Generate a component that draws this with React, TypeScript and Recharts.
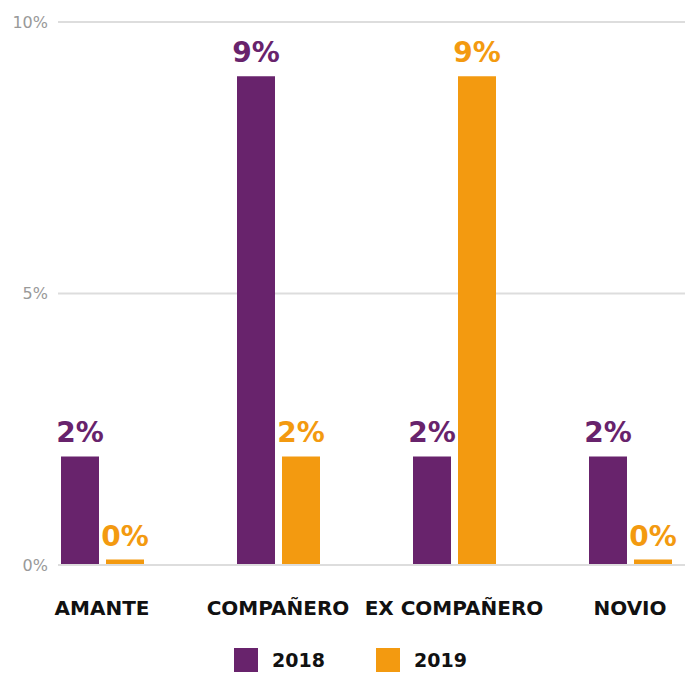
import { Bar, BarChart, CartesianGrid, LabelList, Legend, XAxis, YAxis } from "recharts"

const categories = ["AMANTE", "COMPAÑERO", "EX COMPAÑERO", "NOVIO"]
const values2018 = [2, 9, 2, 2]
const values2019 = [0.1, 2, 9, 0.1]
const yTicks = [0, 5, 10]

const data = categories.map((name, i) => ({
  name,
  y2018: values2018[i],
  y2019: values2019[i],
}))

const PURPLE = "#68236C"
const ORANGE = "#F39A10"
const FONT = "'DejaVu Sans', sans-serif"

const legendItems = [
  { label: "2018", color: PURPLE },
  { label: "2019", color: ORANGE },
]

function renderLegend() {
  return (
    <div style={{ display: "flex", justifyContent: "center", gap: 51, height: 24 }}>
      {legendItems.map((item) => (
        <div key={item.label} style={{ display: "flex", alignItems: "center" }}>
          <span style={{ width: 24, height: 24, background: item.color, display: "inline-block", marginRight: 14 }} />
          <span style={{ fontFamily: FONT, fontWeight: 700, fontSize: 19, color: "#111" }}>{item.label}</span>
        </div>
      ))}
    </div>
  )
}

export default function App() {
  return (
    <BarChart
      width={685}
      height={673}
      data={data}
      margin={{ top: 14, right: 0, left: 0, bottom: 22 }}
      barSize={38}
      barGap={7}
    >
      <CartesianGrid vertical={false} stroke="#dddddd" strokeWidth={2} />
      <XAxis
        dataKey="name"
        padding={{ left: -44, right: -25 }}
        axisLine={{ stroke: "#dddddd", strokeWidth: 2 }}
        tickLine={false}
        height={70}
        tickMargin={30}
        interval={0}
        tick={{ fontFamily: FONT, fontWeight: 700, fontSize: 20, fill: "#111" }}
      />
      <YAxis
        width={50}
        domain={[0, 10]}
        ticks={yTicks}
        axisLine={false}
        tickLine={false}
        tickMargin={4}
        tickFormatter={(v) => `${v}%`}
        tick={{ fontFamily: FONT, fontSize: 16, fill: "#999999" }}
      />
      <Legend verticalAlign="bottom" content={renderLegend} wrapperStyle={{ bottom: 9 }} />
      <Bar dataKey="y2018" fill={PURPLE} isAnimationActive={false}>
        <LabelList
          dataKey="y2018"
          position="top"
          offset={14}
          formatter={(v: number) => `${Math.round(v)}%`}
          style={{ fontFamily: FONT, fontWeight: 700, fontSize: 28, fill: PURPLE }}
        />
      </Bar>
      <Bar dataKey="y2019" fill={ORANGE} isAnimationActive={false}>
        <LabelList
          dataKey="y2019"
          position="top"
          offset={14}
          formatter={(v: number) => `${Math.round(v)}%`}
          style={{ fontFamily: FONT, fontWeight: 700, fontSize: 28, fill: ORANGE }}
        />
      </Bar>
    </BarChart>
  )
}
